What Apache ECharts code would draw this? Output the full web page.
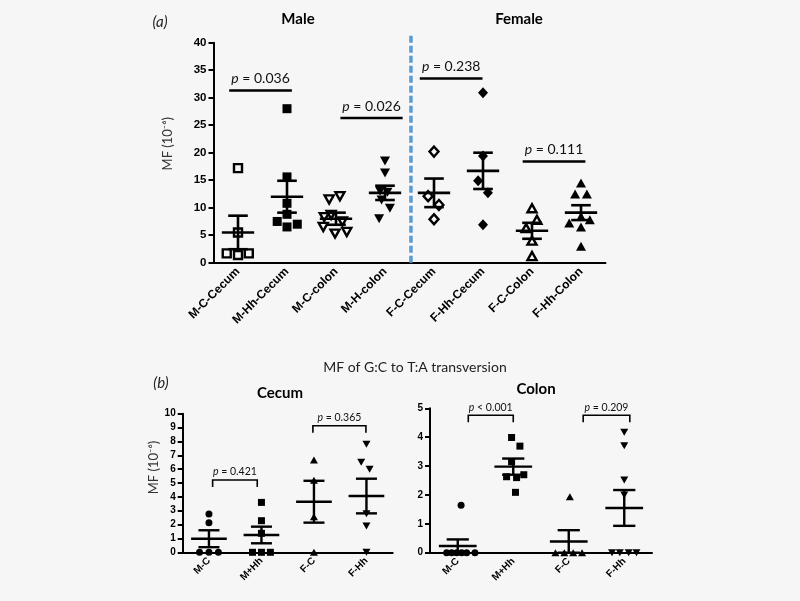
<!DOCTYPE html>
<html><head><meta charset="utf-8">
<script src="https://cdn.jsdelivr.net/npm/echarts/dist/echarts.min.js"></script>
<style>html,body{margin:0;padding:0;background:#f6f6f6}#c{width:800px;height:601px}</style>
</head><body><div id="c"></div><script>
// ---------- DATA ----------
// Panel (a)
const topCategories = ['M-C-Cecum','M-Hh-Cecum','M-C-colon','M-H-colon','F-C-Cecum','F-Hh-Cecum','F-C-Colon','F-Hh-Colon'];
const topValues = [
  [17.2, 5.5, 1.7, 1.4, 1.7],
  [28.0, 15.6, 10.8, 8.8, 7.5, 6.5, 7.0],
  [12.1, 11.5, 8.7, 8.3, 7.5, 6.5, 5.6, 5.3],
  [18.5, 16.3, 13.0, 12.8, 11.4, 9.9, 8.0],
  [20.2, 12.1, 10.5, 7.9],
  [30.9, 19.4, 14.9, 12.7, 6.9],
  [9.9, 7.8, 6.3, 4.0, 1.2],
  [14.5, 12.5, 12.5, 8.4, 7.8, 7.2, 6.5, 3.0]
];
const topJitter = [
  [0, 0, -0.23, 0, 0.22],
  [0, 0, 0, 0, -0.2, 0, 0.21],
  [0.08, -0.14, -0.1, -0.24, 0.13, -0.26, 0.22, -0.02],
  [0, 0, -0.1, 0.05, -0.07, 0.1, -0.12],
  [0, -0.12, 0.1, 0],
  [0, 0, -0.1, 0.1, 0],
  [0, 0.1, -0.12, 0, 0],
  [0, -0.12, 0.12, 0, 0.18, -0.24, 0, 0]
];
const topMeans = [5.5, 12.0, 8.0, 12.7, 12.7, 16.7, 5.8, 9.1];
const topSems  = [3.05, 2.9, 1.1, 1.3, 2.6, 3.3, 1.45, 1.35];
const topPLabels = ['p = 0.036', 'p = 0.026', 'p = 0.238', 'p = 0.111'];
const topPFrom   = [0.32, 2.59, 4.21, 6.31];
const topPTo     = [1.60, 3.86, 5.49, 7.59];
const topPLevel  = [31.3, 26.3, 33.5, 18.4];
const topDivider = [[4.03, 0, 41.4]];

// Panel (b) Cecum
const cecumCategories = ['M-C', 'M+Hh', 'F-C', 'F-Hh'];
const cecumValues = [
  [2.76, 2.14, 0, 0, 0],
  [3.6, 2.28, 1.37, 0, 0, 0],
  [6.66, 5.2, 2.57, 0],
  [7.79, 6.5, 6.0, 2.79, 1.9, 0]
];
const cecumJitter = [
  [0, 0, -0.18, 0, 0.18],
  [0, 0, 0, -0.17, 0, 0.17],
  [0, 0, 0, 0],
  [0, -0.1, 0.06, 0, 0, 0]
];
const cecumMeans = [0.98, 1.25, 3.65, 4.06];
const cecumSems  = [0.61, 0.6, 1.51, 1.25];
const cecumPLabels = ['p = 0.421', 'p = 0.365'];
const cecumPFrom   = [0.57, 2.48];
const cecumPTo     = [1.42, 3.49];
const cecumPLevel  = [5.22, 9.13];

// Panel (b) Colon
const colonCategories = ['M-C', 'M+Hh', 'F-C', 'F-Hh'];
const colonValues = [
  [1.64, 0, 0, 0, 0, 0, 0],
  [3.99, 3.69, 3.15, 2.63, 2.6, 2.7, 2.09],
  [1.94, 0, 0, 0, 0],
  [4.17, 3.7, 2.52, 2.0, 0, 0, 0, 0]
];
const colonJitter = [
  [0.06, -0.2, -0.11, -0.02, 0.07, 0.16, 0.31],
  [-0.03, 0.12, -0.03, -0.12, 0.06, 0.19, 0.04],
  [0.02, -0.24, -0.08, 0.08, 0.24],
  [0, 0, 0, 0, -0.22, -0.08, 0.08, 0.22]
];
const colonMeans = [0.23, 2.98, 0.39, 1.55];
const colonSems  = [0.23, 0.28, 0.39, 0.62];
const colonPLabels = ['p < 0.001', 'p = 0.209'];
const colonPFrom   = [0.69, 2.76];
const colonPTo     = [1.5, 3.6];
const colonPLevel  = [4.76, 4.76];

// ---------- STYLE ----------
const BG = '#f6f6f6';
const TXT = 'Lato, "Liberation Sans", sans-serif';
const AX = '"Liberation Sans", Arial, sans-serif';
const topStyles = [
  {symbol:'rect', open:true, size:8},
  {symbol:'rect', open:false, size:9},
  {symbol:'triangle', rot:180, open:true, size:[9,8]},
  {symbol:'triangle', rot:180, open:false, size:[10,9]},
  {symbol:'diamond', open:true, size:[9,10]},
  {symbol:'diamond', open:false, size:[10,11]},
  {symbol:'triangle', open:true, size:[9,8]},
  {symbol:'triangle', open:false, size:[10,9]}
];
const botStyles = [
  {symbol:'circle', open:false, size:7},
  {symbol:'rect', open:false, size:7},
  {symbol:'triangle', open:false, size:[8,7]},
  {symbol:'triangle', rot:180, open:false, size:[8,7]}
];

function catAxis(gi, cats, fs) {
  return {type:'category', gridIndex:gi, data:cats, boundaryGap:true,
    axisLine:{lineStyle:{color:'#000', width:2}},
    axisTick:{alignWithLabel:true, length:5, lineStyle:{color:'#000', width:2}},
    axisLabel:{rotate:45, interval:0, color:'#000', fontWeight:'bold', fontSize:fs, fontFamily:AX, margin:7},
    splitLine:{show:false}};
}
function hidAxis(gi, max) {
  return {type:'value', gridIndex:gi, min:0, max:max, show:false, splitLine:{show:false}};
}
function valAxis(gi, max, interval, fs, name, gap, pad) {
  return {type:'value', gridIndex:gi, min:0, max:max, interval:interval,
    name:name, nameLocation:'middle', nameGap:gap, nameRotate:90,
    nameTextStyle:{color:'#333', fontSize:13, fontFamily:TXT, padding:[0,0,0,pad]},
    axisLine:{show:true, lineStyle:{color:'#000', width:2}},
    axisTick:{show:true, length:5, lineStyle:{color:'#000', width:2}},
    axisLabel:{color:'#000', fontWeight:'bold', fontSize:fs, fontFamily:AX, margin:7},
    splitLine:{show:false}};
}
function scatterSeries(xi, yi, values, jitter, styles) {
  return values.map((vals, g) => {
    const st = styles[g];
    return {type:'scatter', xAxisIndex:xi, yAxisIndex:yi, z:2,
      symbol:st.symbol, symbolSize:st.size, symbolRotate:st.rot || 0,
      itemStyle: st.open ? {color:BG, borderColor:'#000', borderWidth:2.4, opacity:1}
                         : {color:'#000', opacity:1},
      emphasis:{disabled:true},
      data: vals.map((v, k) => [g + 0.5 + jitter[g][k], v])};
  });
}
function errorSeries(xi, yi, means, sems, halfMean, halfCap, lw) {
  return {type:'custom', xAxisIndex:xi, yAxisIndex:yi, z:4, clip:false,
    encode:{x:0, y:1},
    data: means.map((m, i) => [i + 0.5, m, sems[i]]),
    renderItem: function(params, api) {
      const x = api.value(0), m = api.value(1), s = api.value(2);
      const unit = api.size([1, 0])[0];
      const c = api.coord([x, m]), hi = api.coord([x, m + s]), lo = api.coord([x, m - s]);
      const hm = unit * halfMean, hc = unit * halfCap;
      const st = {stroke:'#000', lineWidth:lw};
      return {type:'group', children:[
        {type:'line', shape:{x1:c[0]-hm, y1:c[1], x2:c[0]+hm, y2:c[1]}, style:st},
        {type:'line', shape:{x1:hi[0], y1:hi[1], x2:lo[0], y2:lo[1]}, style:st},
        {type:'line', shape:{x1:hi[0]-hc, y1:hi[1], x2:hi[0]+hc, y2:hi[1]}, style:st},
        {type:'line', shape:{x1:lo[0]-hc, y1:lo[1], x2:lo[0]+hc, y2:lo[1]}, style:st}
      ]};
    }};
}
function pSeries(xi, yi, labels, from, to, level, fs, gap, leg, lw) {
  return {type:'custom', xAxisIndex:xi, yAxisIndex:yi, z:5, clip:false,
    encode:{x:[0,1], y:2},
    data: labels.map((l, i) => [from[i], to[i], level[i]]),
    renderItem: function(params, api) {
      const a = api.coord([api.value(0), api.value(2)]);
      const b = api.coord([api.value(1), api.value(2)]);
      const lab = labels[params.dataIndex];
      const pts = leg > 0 ? [[a[0], a[1]+leg], a, b, [b[0], b[1]+leg]] : [a, b];
      return {type:'group', children:[
        {type:'polyline', shape:{points:pts}, style:{stroke:'#000', lineWidth:lw, fill:null}},
        {type:'text', x:(a[0]+b[0])/2, y:a[1]-gap, style:{
          text:'{i|p}{n|' + lab.slice(1) + '}', align:'center', verticalAlign:'middle',
          fontSize:fs, fontFamily:TXT, fill:'#111',
          rich:{i:{fontStyle:'italic', fontSize:fs, fontFamily:TXT, fill:'#111'},
                n:{fontSize:fs, fontFamily:TXT, fill:'#111'}}}}
      ]};
    }};
}
function dividerSeries(xi, yi, data) {
  return {type:'custom', xAxisIndex:xi, yAxisIndex:yi, z:1, clip:false,
    encode:{x:0, y:2}, data:data,
    renderItem: function(params, api) {
      const a = api.coord([api.value(0), api.value(1)]);
      const b = api.coord([api.value(0), api.value(2)]);
      return {type:'line', shape:{x1:a[0], y1:a[1], x2:b[0], y2:b[1]},
        style:{stroke:'#5b9bd5', lineWidth:3.5, lineDash:[7,3]}};
    }};
}

const MF = 'MF (10\u207B\u2076)';
const chart = echarts.init(document.getElementById('c'), null, {renderer:'canvas'});
chart.setOption({
  backgroundColor: BG,
  animation: false,
  grid: [
    {left:213.5, top:42.7, width:392, height:220, outerBoundsMode:'none'},
    {left:182.7, top:413.7, width:210, height:138.6, outerBoundsMode:'none'},
    {left:430, top:408.3, width:222, height:144.4, outerBoundsMode:'none'}
  ],
  xAxis: [
    catAxis(0, topCategories, 12), hidAxis(0, 8),
    catAxis(1, cecumCategories, 10), hidAxis(1, 4),
    catAxis(2, colonCategories, 10), hidAxis(2, 4)
  ],
  yAxis: [
    valAxis(0, 40, 5, 11.5, MF, 39, 18),
    valAxis(1, 10, 1, 10, MF, 20, 31),
    valAxis(2, 5, 1, 10, '', 20, 0)
  ],
  graphic: [
    {type:'text', x:160, y:22, style:{text:'(a)', fontSize:15, fontStyle:'italic', fontFamily:TXT, fill:'#222', align:'center', verticalAlign:'middle'}},
    {type:'text', x:298, y:19, style:{text:'Male', fontSize:15, fontWeight:'bold', fontFamily:TXT, fill:'#000', align:'center', verticalAlign:'middle'}},
    {type:'text', x:519, y:19, style:{text:'Female', fontSize:15, fontWeight:'bold', fontFamily:TXT, fill:'#000', align:'center', verticalAlign:'middle'}},
    {type:'text', x:415, y:367, style:{text:'MF of G:C to T:A transversion', fontSize:14, fontFamily:TXT, fill:'#222', align:'center', verticalAlign:'middle'}},
    {type:'text', x:161, y:383, style:{text:'(b)', fontSize:15, fontStyle:'italic', fontFamily:TXT, fill:'#222', align:'center', verticalAlign:'middle'}},
    {type:'text', x:280, y:393, style:{text:'Cecum', fontSize:15, fontWeight:'bold', fontFamily:TXT, fill:'#000', align:'center', verticalAlign:'middle'}},
    {type:'text', x:536, y:389, style:{text:'Colon', fontSize:15, fontWeight:'bold', fontFamily:TXT, fill:'#000', align:'center', verticalAlign:'middle'}}
  ],
  series: [].concat(
    [dividerSeries(1, 0, topDivider)],
    scatterSeries(1, 0, topValues, topJitter, topStyles),
    [errorSeries(1, 0, topMeans, topSems, 0.33, 0.2, 2.6)],
    [pSeries(1, 0, topPLabels, topPFrom, topPTo, topPLevel, 14, 12, 0, 2.6)],
    scatterSeries(3, 1, cecumValues, cecumJitter, botStyles),
    [errorSeries(3, 1, cecumMeans, cecumSems, 0.34, 0.2, 2.4)],
    [pSeries(3, 1, cecumPLabels, cecumPFrom, cecumPTo, cecumPLevel, 10.5, 8, 7, 1.6)],
    scatterSeries(5, 2, colonValues, colonJitter, botStyles),
    [errorSeries(5, 2, colonMeans, colonSems, 0.34, 0.2, 2.4)],
    [pSeries(5, 2, colonPLabels, colonPFrom, colonPTo, colonPLevel, 10.5, 8, 7, 1.6)]
  )
});
</script></body></html>
